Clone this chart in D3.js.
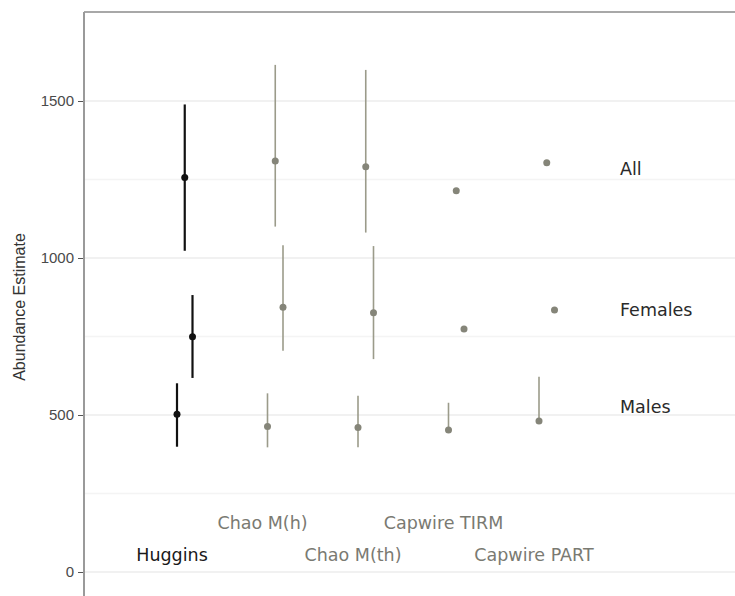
<!DOCTYPE html>
<html>
<head>
<meta charset="utf-8">
<script src="https://cdn.jsdelivr.net/npm/d3@7"></script>
<style>
  html, body { margin: 0; padding: 0; background: #fff; }
  svg { display: block; }
  .ytick { font-family: 'Liberation Sans', Arial, sans-serif; font-size: 15px; fill: #4a4a4a; }
</style>
</head>
<body>
<svg id="chart" width="735" height="596"></svg>
<script>
// ---- data ----
const methods = ["Huggins", "Chao M(h)", "Chao M(th)", "Capwire TIRM", "Capwire PART"];
const groups = ["All", "Females", "Males"];
const dodgeOrder = ["Males", "All", "Females"];
const yTicks = [0, 500, 1000, 1500];
const yMinorTicks = [250, 750, 1250];

// estimates [Huggins, Chao M(h), Chao M(th), Capwire TIRM, Capwire PART]
const allEst   = [1256, 1309, 1291, 1214, 1303];
const allLow   = [1023, 1100, 1081, null, null];
const allHigh  = [1489, 1615, 1599, null, null];

const femEst   = [749, 843, 826, 774, 834];
const femLow   = [618, 705, 678, null, null];
const femHigh  = [882, 1041, 1038, null, null];

const maleEst  = [502, 463, 460, 452, 481];
const maleLow  = [399, 397, 397, 452, 481];
const maleHigh = [601, 569, 561, 539, 622];

const series = {
  All: { est: allEst, low: allLow, high: allHigh },
  Females: { est: femEst, low: femLow, high: femHigh },
  Males: { est: maleEst, low: maleLow, high: maleHigh }
};

const rows = [];
groups.forEach(g => methods.forEach((m, i) => {
  rows.push({ group: g, method: m, est: series[g].est[i], low: series[g].low[i], high: series[g].high[i] });
}));

// ---- layout ----
const svg = d3.select("#chart");
const W = 735, H = 596;
const plotLeft = 84, plotTop = 12;

const y = d3.scaleLinear().domain([0, 1500]).range([572, 101]);
const x = d3.scalePoint().domain(methods).range([185, 547]);
const dodge = d3.scalePoint().domain(dodgeOrder).range([-8, 7.5]);

const colorLine = m => m === "Huggins" ? "#111" : "#9b9b8a";
const colorPt = m => m === "Huggins" ? "#111" : "#858579";

// grid
svg.append("g").selectAll("line.minor").data(yMinorTicks).join("line")
  .attr("x1", plotLeft).attr("x2", W)
  .attr("y1", d => y(d)).attr("y2", d => y(d))
  .attr("stroke", "#f4f4f4").attr("stroke-width", 1.5);
svg.append("g").selectAll("line.major").data(yTicks).join("line")
  .attr("x1", plotLeft).attr("x2", W)
  .attr("y1", d => y(d)).attr("y2", d => y(d))
  .attr("stroke", "#ececec").attr("stroke-width", 1.5);

// frame
svg.append("line").attr("x1", plotLeft).attr("x2", W).attr("y1", plotTop).attr("y2", plotTop)
  .attr("stroke", "#a8a8a8").attr("stroke-width", 2);

// y axis
const yAxis = d3.axisLeft(y).tickValues(yTicks).tickSize(6).tickPadding(4).tickFormat(d3.format("d"));
const ag = svg.append("g").attr("transform", `translate(${plotLeft},0)`).call(yAxis);
ag.attr("font-size", null).attr("font-family", null);
ag.select(".domain").remove();
ag.append("line").attr("x1", 0).attr("x2", 0).attr("y1", plotTop).attr("y2", H)
  .attr("stroke", "#9a9a9a").attr("stroke-width", 2);
ag.selectAll(".tick line").attr("stroke", "#555");
ag.selectAll(".tick text").attr("class", "ytick").attr("fill", null);

svg.append("text")
  .attr("transform", `translate(25,${307}) rotate(-90)`)
  .attr("text-anchor", "middle")
  .attr("font-family", "Liberation Sans, Arial, sans-serif")
  .attr("font-size", 16).attr("fill", "#333")
  .text("Abundance Estimate");

// error bars
const px = d => x(d.method) + dodge(d.group);
svg.append("g").selectAll("line").data(rows.filter(d => d.low != null && d.high != null && d.high > d.low)).join("line")
  .attr("x1", px).attr("x2", px)
  .attr("y1", d => y(d.low)).attr("y2", d => y(d.high))
  .attr("stroke", d => colorLine(d.method))
  .attr("stroke-width", d => d.method === "Huggins" ? 2.2 : 1.6);

// points
svg.append("g").selectAll("circle").data(rows).join("circle")
  .attr("cx", px).attr("cy", d => y(d.est))
  .attr("r", 3.5)
  .attr("fill", d => colorPt(d.method));

// group labels
const groupLabelVals = { All: 1283, Females: 833, Males: 526 };
svg.append("g").selectAll("text").data(groups).join("text")
  .attr("x", 620).attr("y", g => y(groupLabelVals[g]) + 6)
  .attr("font-family", "DejaVu Sans, Verdana, sans-serif")
  .attr("font-size", 17.5).attr("fill", "#2a2a2a")
  .text(g => g);

// method labels
svg.append("g").selectAll("text").data(methods).join("text")
  .attr("x", m => x(m) - 13)
  .attr("y", (m, i) => i % 2 === 0 ? 561 : 529)
  .attr("text-anchor", "middle")
  .attr("font-family", "DejaVu Sans, Verdana, sans-serif")
  .attr("font-size", 17.5)
  .attr("fill", m => m === "Huggins" ? "#1a1a1a" : "#7a7a72")
  .text(m => m);
</script>
</body>
</html>
